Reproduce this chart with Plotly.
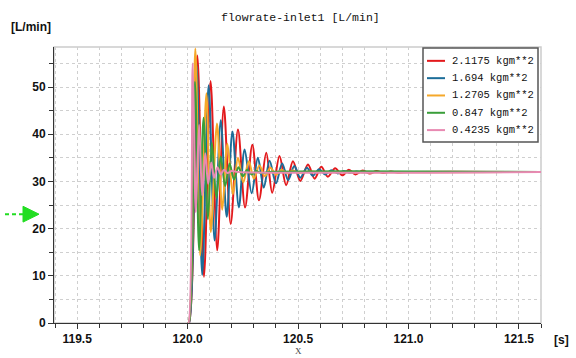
import plotly.graph_objects as go

# Flow rate at inlet 1 after the valve step at t = 120 s, one run per rotor inertia
names = ["2.1175 kgm**2", "1.694 kgm**2", "1.2705 kgm**2", "0.847 kgm**2", "0.4235 kgm**2"]
colors = ["#e3191c", "#1c6d99", "#f5a82a", "#3a9e3a", "#e88ab2"]

t_red = [120.0, 120.006, 120.044, 120.074, 120.104, 120.134, 120.164, 120.195, 120.228, 120.26,
         120.293, 120.323, 120.356, 120.383, 120.416, 120.446, 120.477, 120.51, 120.545, 120.575,
         120.605, 120.635, 120.668, 120.70, 120.73, 120.76, 120.793, 120.825, 120.855, 120.885,
         120.92, 120.95, 121.0, 121.6]
v_red = [0.0, 0.0, 56.7, 9.8, 51.3, 15.4, 45.9, 21.0, 41.0, 24.5,
         37.8, 26.0, 36.1, 27.6, 35.4, 29.2, 34.3, 30.1, 33.6, 30.6,
         33.1, 31.0, 32.8, 31.3, 32.5, 31.5, 32.3, 31.7, 32.2, 31.8,
         32.1, 31.9, 32.0, 32.0]

t_blue = [120.0, 120.006, 120.04, 120.066, 120.095, 120.122, 120.15, 120.177, 120.203, 120.232,
          120.258, 120.29, 120.318, 120.345, 120.371, 120.4, 120.428, 120.455, 120.483, 120.51,
          120.54, 120.567, 120.595, 120.623, 120.65, 120.68, 120.707, 120.735, 120.765, 120.79,
          120.85, 121.6]
v_blue = [0.0, 0.0, 55.0, 10.2, 50.4, 17.5, 43.0, 22.5, 40.6, 24.5,
          36.8, 27.5, 35.0, 28.7, 34.4, 29.6, 33.8, 30.3, 33.3, 30.8,
          32.9, 31.2, 32.6, 31.5, 32.4, 31.7, 32.2, 31.85, 32.1, 31.95,
          32.0, 32.0]

t_orange = [120.0, 120.005, 120.035, 120.057, 120.085, 120.105, 120.133, 120.157, 120.18, 120.205,
            120.228, 120.252, 120.277, 120.30, 120.325, 120.35, 120.375, 120.40, 120.425, 120.45,
            120.475, 120.50, 120.55, 120.60, 121.6]
v_orange = [0.0, 0.0, 58.2, 14.3, 48.7, 19.3, 42.3, 24.0, 38.0, 27.3,
            35.0, 29.8, 34.3, 30.6, 33.4, 31.1, 32.9, 31.4, 32.5, 31.7,
            32.3, 31.8, 32.1, 32.0, 32.0]

t_green = [120.0, 120.005, 120.033, 120.052, 120.072, 120.092, 120.11, 120.13, 120.15, 120.17,
           120.19, 120.21, 120.23, 120.25, 120.27, 120.29, 120.31, 120.33, 120.37, 121.6]
v_green = [0.0, 0.0, 51.1, 15.4, 43.5, 22.0, 38.2, 26.5, 35.3, 29.0,
           33.8, 30.4, 33.0, 31.1, 32.5, 31.5, 32.2, 31.8, 32.0, 32.0]

t_pink = [120.0, 120.004, 120.023, 120.037, 120.052, 120.066, 120.08, 120.093, 120.107, 120.12,
          120.135, 120.15, 120.165, 120.18, 120.20, 120.23, 121.6]
v_pink = [0.0, 0.0, 55.0, 23.5, 42.0, 27.0, 36.0, 29.5, 34.0, 30.8,
          33.0, 31.5, 32.5, 31.8, 32.2, 32.0, 32.0]

series_t = [t_red, t_blue, t_orange, t_green, t_pink]
series_v = [v_red, v_blue, v_orange, v_green, v_pink]

x_range = [119.395, 121.6]
y_range = [0, 58.5]

W, H = 576, 358
L, R, T, B = 54, 541, 47, 326  # plot area in pixels


def px(x):
    return (x - L) / (R - L)


def py(y):
    return (B - y) / (B - T)


fig = go.Figure()
for name, tt, vv, c in zip(names, series_t, series_v, colors):
    fig.add_trace(go.Scatter(x=tt, y=vv, name=name, mode="lines",
                             line=dict(color=c, width=2, shape="spline", smoothing=0.9),
                             showlegend=False))

grid = dict(showgrid=True, gridcolor="#cfcfcf", griddash="dot", gridwidth=1)
tickfont = dict(family="Liberation Sans", size=12, color="#111", weight="bold")

fig.update_layout(
    width=W, height=H,
    margin=dict(l=L, r=W - R, t=T, b=H - B),
    plot_bgcolor="white", paper_bgcolor="white",
    xaxis=dict(range=x_range, tick0=119.5, dtick=0.5, tickformat=".1f",
               ticks="outside", ticklen=5, tickcolor="#333", showline=True,
               linecolor="#333", linewidth=1, zeroline=False, tickfont=tickfont,
               minor=dict(dtick=0.1, tick0=119.5, ticks="outside", ticklen=4,
                          tickcolor="#333", **grid),
               **grid),
    yaxis=dict(range=y_range, dtick=10, ticks="outside", ticklen=5, tickcolor="#333",
               showline=True, linecolor="#333", linewidth=1, zeroline=False,
               tickfont=tickfont,
               minor=dict(dtick=5, ticks="outside", ticklen=4, tickcolor="#333", **grid),
               **grid),
)

# light frame on the top and right of the plot area
fig.add_shape(type="rect", xref="paper", yref="paper", x0=0, x1=1, y0=0, y1=1,
              line=dict(color="#cccccc", width=1.5), layer="below")

# legend box drawn by hand so the sample lines stay short
fig.add_shape(type="rect", xref="paper", yref="paper",
              x0=px(423), x1=px(538), y0=py(143), y1=py(48),
              line=dict(color="#555", width=1.5), fillcolor="white", layer="above")
for i, (name, c) in enumerate(zip(names, colors)):
    yy = 61 + 17.5 * i
    fig.add_shape(type="line", xref="paper", yref="paper",
                  x0=px(427), x1=px(445), y0=py(yy), y1=py(yy),
                  line=dict(color=c, width=2), layer="above")
    fig.add_annotation(x=px(450), y=py(yy), xref="paper", yref="paper", text=name,
                       showarrow=False, xanchor="left", yanchor="middle",
                       font=dict(family="Liberation Mono", size=10.5, color="#111"))

# start marker on the value axis
fig.add_shape(type="line", xref="paper", yref="paper", x0=px(5), x1=px(23),
              y0=py(216), y1=py(216),
              line=dict(color="#22dd22", width=2, dash="4px,3px"))
fig.add_shape(type="path", xref="paper", yref="paper",
              path=f"M {px(23)},{py(208)} L {px(39)},{py(216)} L {px(23)},{py(224)} Z",
              fillcolor="#22dd22", line=dict(color="#22dd22", width=1))


def label(text, x, y, font):
    fig.add_annotation(x=px(x), y=py(y), xref="paper", yref="paper", text=text,
                       showarrow=False, xanchor="center", yanchor="middle", font=font)


label("flowrate-inlet1 [L/min]", 300, 17,
      dict(family="Liberation Mono", size=11.5, color="#111"))
label("[L/min]", 31, 27, dict(family="Liberation Sans", size=12, color="#111", weight="bold"))
label("[s]", 561, 343, dict(family="Liberation Sans", size=12, color="#111", weight="bold"))
label("X", 298, 354, dict(family="Liberation Serif", size=9, color="#444"))

fig.write_html("out.html")
